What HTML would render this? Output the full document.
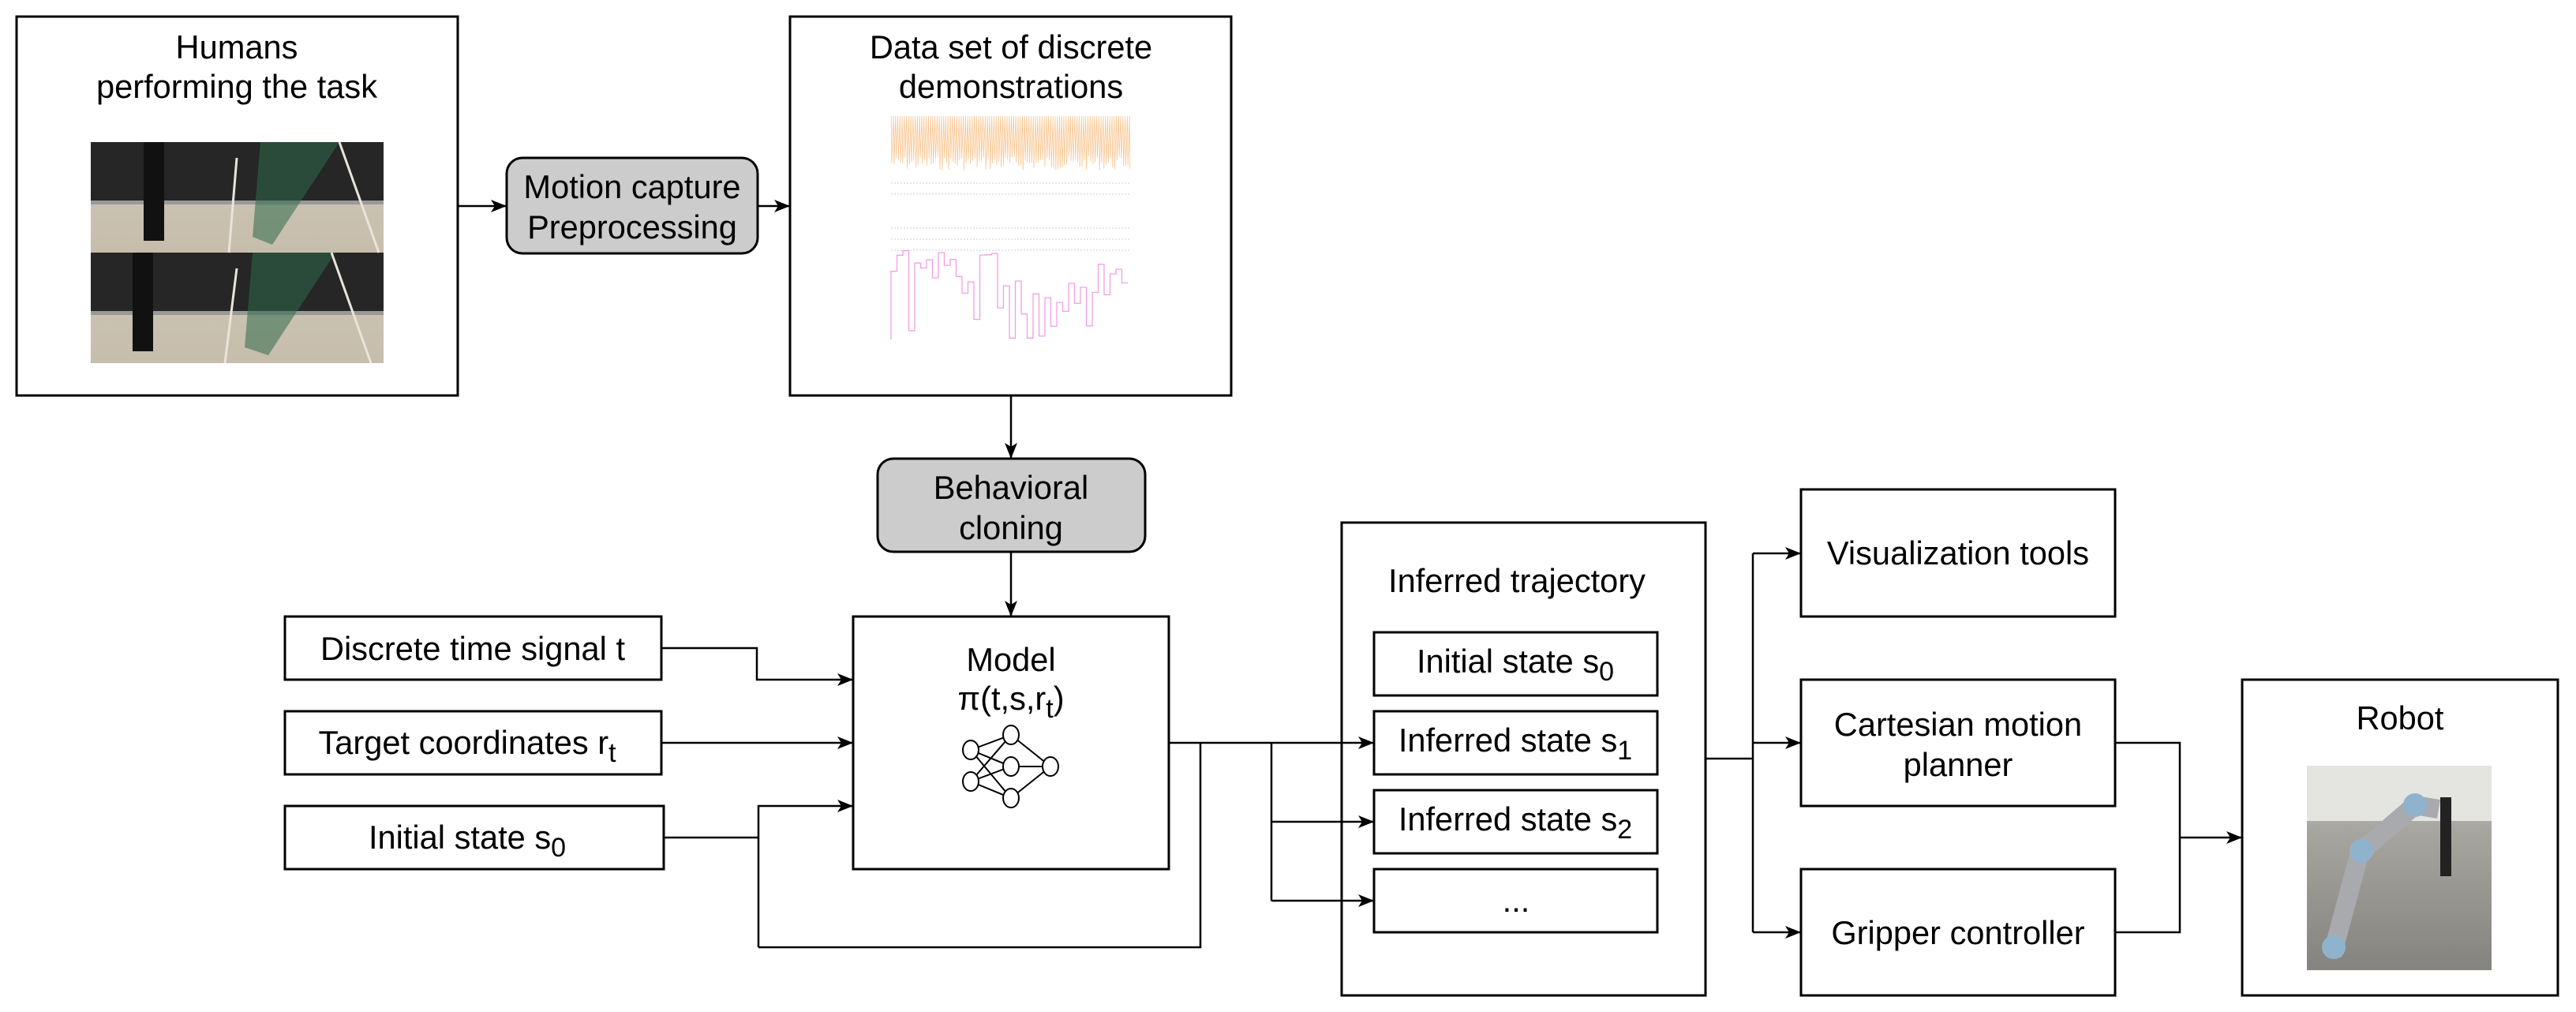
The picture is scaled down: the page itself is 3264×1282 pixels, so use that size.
<!DOCTYPE html>
<html><head><meta charset="utf-8">
<style>
html,body{margin:0;padding:0;background:#fff;}
svg{display:block;}
text{font-family:"Liberation Sans",Arial,sans-serif;font-size:41.6px;fill:#000;}
</style></head>
<body>
<svg id="s" width="3264" height="1282" viewBox="0 0 3264 1282" xmlns="http://www.w3.org/2000/svg">
<defs>
<marker id="a" markerWidth="20" markerHeight="20" refX="19" refY="10" orient="auto" markerUnits="userSpaceOnUse" viewBox="0 0 20 20">
<path d="M0,2 L20,10 L0,18 L5,10 z" fill="#000"/>
</marker>
<linearGradient id="floor" x1="0" y1="0" x2="0" y2="1"><stop offset="0" stop-color="#cfc8ba"/><stop offset="1" stop-color="#c6bdab"/></linearGradient>
<linearGradient id="rb" x1="0" y1="0" x2="0" y2="1"><stop offset="0" stop-color="#d8d8d4"/><stop offset="0.3" stop-color="#a8a6a0"/><stop offset="1" stop-color="#85837f"/></linearGradient>
</defs>
<g fill="none" stroke="#000" stroke-width="3">
<rect x="21" y="21" width="559" height="480"/>
<rect x="1001" y="21" width="559" height="480"/>
<rect x="642" y="200" width="318" height="121" rx="20" fill="#cccccc"/>
<rect x="1112" y="581" width="339" height="118" rx="20" fill="#cccccc"/>
<rect x="361" y="781" width="477" height="80"/>
<rect x="361" y="901" width="477" height="80"/>
<rect x="361" y="1021" width="480" height="80"/>
<rect x="1081" y="781" width="400" height="320"/>
<rect x="1700" y="662" width="461" height="599"/>
<rect x="1741" y="801" width="359" height="80"/>
<rect x="1741" y="901" width="359" height="80"/>
<rect x="1741" y="1001" width="359" height="80"/>
<rect x="1741" y="1101" width="359" height="80"/>
<rect x="2282" y="620" width="398" height="161"/>
<rect x="2282" y="861" width="398" height="160"/>
<rect x="2282" y="1101" width="398" height="160"/>
<rect x="2841" y="861" width="400" height="400"/>
</g>
<g fill="none" stroke="#000" stroke-width="2.5">
<path d="M580 261 H641" marker-end="url(#a)"/>
<path d="M960 261 H1000" marker-end="url(#a)"/>
<path d="M1281 501 V580" marker-end="url(#a)"/>
<path d="M1281 699 V780" marker-end="url(#a)"/>
<path d="M838 821 H959 V861 H1080" marker-end="url(#a)"/>
<path d="M838 941 H1080" marker-end="url(#a)"/>
<path d="M841 1061 H961"/>
<path d="M961 1200 V1021 H1080" marker-end="url(#a)"/>
<path d="M961 1200 H1521 V941"/>
<path d="M1481 941 H1740" marker-end="url(#a)"/>
<path d="M1611 941 V1141"/>
<path d="M1611 1041 H1740" marker-end="url(#a)"/>
<path d="M1611 1141 H1740" marker-end="url(#a)"/>
<path d="M2161 961 H2221"/>
<path d="M2221 701 V1181"/>
<path d="M2221 701 H2281" marker-end="url(#a)"/>
<path d="M2221 941 H2281" marker-end="url(#a)"/>
<path d="M2221 1181 H2281" marker-end="url(#a)"/>
<path d="M2680 941 H2762 V1181 H2680"/>
<path d="M2762 1061 H2840" marker-end="url(#a)"/>
</g>
<g text-anchor="middle">
<text x="300" y="74">Humans</text>
<text x="300" y="124">performing the task</text>
<text x="1281" y="74">Data set of discrete</text>
<text x="1281" y="124">demonstrations</text>
<text x="801" y="251">Motion capture</text>
<text x="801" y="302">Preprocessing</text>
<text x="1281" y="632">Behavioral</text>
<text x="1281" y="683">cloning</text>
<text x="599" y="836">Discrete time signal t</text>
<text x="592" y="955">Target coordinates r<tspan font-size="34" dy="10">t</tspan></text>
<text x="592" y="1075">Initial state s<tspan font-size="34" dy="10">0</tspan></text>
<text x="1281" y="850">Model</text>
<text x="1281" y="899">π(t,s,r<tspan font-size="34" dy="10">t</tspan><tspan dy="-10">)</tspan></text>
<text x="1922" y="750">Inferred trajectory</text>
<text x="1920" y="852">Initial state s<tspan font-size="34" dy="10">0</tspan></text>
<text x="1920" y="952">Inferred state s<tspan font-size="34" dy="10">1</tspan></text>
<text x="1920" y="1052">Inferred state s<tspan font-size="34" dy="10">2</tspan></text>
<text x="1921" y="1155">...</text>
<text x="2481" y="715">Visualization tools</text>
<text x="2481" y="932">Cartesian motion</text>
<text x="2481" y="983">planner</text>
<text x="2481" y="1196">Gripper controller</text>
<text x="3041" y="924">Robot</text>
</g>
<g stroke="#000" stroke-width="2" fill="#fff">
<path d="M1230 950 L1281 931 M1230 950 L1281 1011 M1230 990 L1281 931 M1230 990 L1281 1011 M1230 950 L1281 971 M1230 990 L1281 971 M1281 931 L1331 971 M1281 971 L1331 971 M1281 1011 L1331 971"/>
<ellipse cx="1230" cy="950" rx="10" ry="12"/>
<ellipse cx="1230" cy="990" rx="10" ry="12"/>
<ellipse cx="1281" cy="931" rx="10" ry="12"/>
<ellipse cx="1281" cy="971" rx="10" ry="12"/>
<ellipse cx="1281" cy="1011" rx="10" ry="12"/>
<ellipse cx="1331" cy="971" rx="10" ry="12"/>
</g>
<g>
<rect x="115" y="180" width="371" height="140" fill="url(#floor)"/>
<rect x="115" y="180" width="371" height="76" fill="#262626"/>
<rect x="115" y="254" width="371" height="5" fill="#999"/>
<rect x="115" y="320" width="371" height="140" fill="url(#floor)"/>
<rect x="115" y="320" width="371" height="76" fill="#262626"/>
<rect x="115" y="394" width="371" height="5" fill="#999"/>
<path d="M330 180 L430 180 L345 310 L320 300 Z" fill="#2f6a4a" opacity="0.55"/>
<path d="M320 320 L425 320 L340 450 L310 440 Z" fill="#2f6a4a" opacity="0.55"/>
<rect x="182" y="180" width="26" height="125" fill="#111"/>
<rect x="168" y="320" width="26" height="125" fill="#111"/>
<path d="M430 180 L480 320 M300 340 L285 460 M420 320 L470 460 M300 200 L290 320" stroke="#e8e4da" stroke-width="3"/>
</g>
<g>
<rect x="2923" y="970" width="234" height="259" fill="url(#rb)"/>
<rect x="2923" y="970" width="234" height="70" fill="#e4e4e0"/>
<path d="M2955 1210 L2990 1080 L3060 1020 L3090 1025" stroke="#a9aaae" stroke-width="24" fill="none"/>
<circle cx="3060" cy="1020" r="15" fill="#8fb3cc"/>
<circle cx="2992" cy="1078" r="15" fill="#8fb3cc"/>
<circle cx="2957" cy="1200" r="15" fill="#8fb3cc"/>
<rect x="3092" y="1010" width="14" height="100" fill="#222"/>
</g>
<g id="plots"></g>
</svg>
<script>
var g=document.getElementById('plots'),h='';
var seed=7;function r(){seed=(seed*9301+49297)%233280;return seed/233280;}
var d='M1129 147';
for(var i=0;i<110;i++){var xx=1129+i*2.77;d+=' L'+(xx+0.3).toFixed(1)+' 147 L'+(xx+1.0).toFixed(1)+' '+(198+r()*18).toFixed(1);}
h+='<path d="'+d+'" stroke="#f7a04a" stroke-width="0.8" fill="none" opacity="0.6"/>';
[232,246,289,303,317].forEach(function(y){h+='<line x1="1129" x2="1431" y1="'+y+'" y2="'+y+'" stroke="#ccc" stroke-width="1" stroke-dasharray="2,2"/>';});
var p='M1129 430';var y;
for(var j=0;j<40;j++){var xx=1129+j*7.5;y=315+r()*125;if(r()<0.4)y=320+r()*40;p+=' V'+y.toFixed(1)+' H'+(xx+7.5).toFixed(1);}
h+='<path d="'+p+'" stroke="#ee80d8" stroke-width="1.3" fill="none" opacity="0.75"/>';
g.innerHTML=h;
</script>
</body></html>
